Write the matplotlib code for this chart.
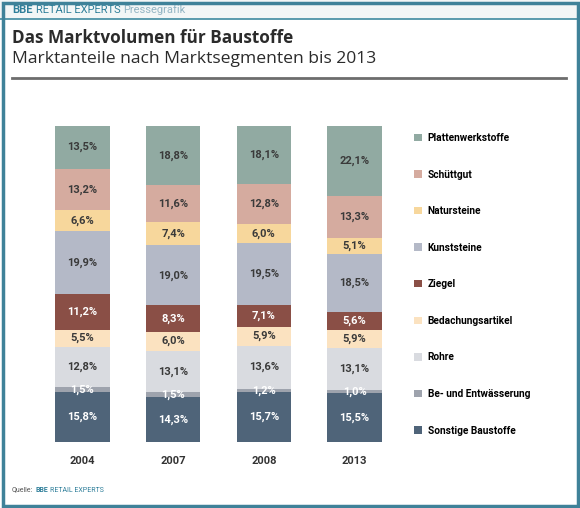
import matplotlib.pyplot as plt
from matplotlib.patches import Rectangle, Patch
from matplotlib.lines import Line2D

plt.rcParams['font.family'] = ['Roboto', 'DejaVu Sans']

years = ['2004', '2007', '2008', '2013']
segments = ['Sonstige Baustoffe', 'Be- und Entwässerung', 'Rohre', 'Bedachungsartikel',
            'Ziegel', 'Kunststeine', 'Natursteine', 'Schüttgut', 'Plattenwerkstoffe']
# values bottom -> top, one list per segment (2004, 2007, 2008, 2013)
sonstige = [15.8, 14.3, 15.7, 15.5]
entwaesserung = [1.5, 1.5, 1.2, 1.0]
rohre = [12.8, 13.1, 13.6, 13.1]
bedachung = [5.5, 6.0, 5.9, 5.9]
ziegel = [11.2, 8.3, 7.1, 5.6]
kunststeine = [19.9, 19.0, 19.5, 18.5]
natursteine = [6.6, 7.4, 6.0, 5.1]
schuettgut = [13.2, 11.6, 12.8, 13.3]
platten = [13.5, 18.8, 18.1, 22.1]
values = [sonstige, entwaesserung, rohre, bedachung, ziegel,
          kunststeine, natursteine, schuettgut, platten]

colors = ['#4f6479', '#9ea3ad', '#d9dbe0', '#fbe2c0', '#8a4f46',
          '#b4b9c7', '#f7d79c', '#d5ab9f', '#91aaa2']
text_colors = ['white', 'white', '#3a3a3a', '#3a3a3a', 'white',
               '#3a3a3a', '#3a3a3a', '#3a3a3a', '#3a3a3a']

W, H = 580, 508
fig = plt.figure(figsize=(W / 100, H / 100), dpi=100)
fig.patch.set_facecolor('white')

# frame and header strip
fig.patches.append(Rectangle((0, 1 - 19 / H), 1, 19 / H, transform=fig.transFigure,
                             facecolor='#f3f6f6', edgecolor='none', zorder=0))
fig.add_artist(Line2D([0, 1], [1 - 19 / H, 1 - 19 / H], color='#3f8aa0', lw=1.2))
fig.patches.append(Rectangle((2.5 / W, 2.5 / H), 1 - 5 / W, 1 - 5 / H, transform=fig.transFigure,
                             facecolor='none', edgecolor='#3f8299', lw=2.5, zorder=5))

renderer = fig.canvas.get_renderer()


def text_row(parts, x, y, size, gap=3):
    # write text pieces one after another on one line (x, y in pixels from top-left)
    for txt, color, weight in parts:
        t = fig.text(x / W, 1 - y / H, txt, color=color, fontsize=size,
                     fontweight=weight, va='center')
        x += t.get_window_extent(renderer).width + gap


text_row([('BBE', '#2f7f9a', 'bold'), ('RETAIL EXPERTS', '#2f7f9a', 'normal'),
          ('Pressegrafik', '#93b5c4', 'normal')], 12, 10, 8)

fig.text(12 / W, 1 - 38 / H, 'Das Marktvolumen für Baustoffe', fontsize=12.3,
         fontweight='bold', color='#2b2b2b', va='center', family='Open Sans')
fig.text(12 / W, 1 - 59 / H, 'Marktanteile nach Marktsegmenten bis 2013', fontsize=12.6,
         color='#2b2b2b', va='center', family='Open Sans')
fig.add_artist(Line2D([12 / W, 566 / W], [1 - 78 / H, 1 - 78 / H], color='#6d6d6d', lw=2))

text_row([('Quelle:', '#555555', 'normal'), ('BBE', '#2f7f9a', 'bold'),
          ('RETAIL EXPERTS', '#2f7f9a', 'normal')], 12, 490, 5, gap=2)

ax = fig.add_axes([37 / W, (H - 442) / H, 363 / W, 316 / H])
x = range(len(years))
bottom = [0.0] * len(years)
for seg, vals, c, tc in zip(segments, values, colors, text_colors):
    bars = ax.bar(x, vals, width=0.6, bottom=bottom, color=c, label=seg)
    for b, v in zip(bars, vals):
        ax.text(b.get_x() + b.get_width() / 2, b.get_y() + v / 2, f'{v:.1f}%'.replace('.', ','),
                ha='center', va='center', fontsize=8, fontweight='bold', color=tc)
    bottom = [b + v for b, v in zip(bottom, vals)]

ax.set_xlim(-0.5, 3.5)
ax.set_ylim(0, 100)
ax.set_xticks(list(x))
ax.set_xticklabels(years, fontsize=8, fontweight='bold', color='#333333')
ax.tick_params(axis='x', length=0, pad=10)
ax.set_yticks([])
for s in ax.spines.values():
    s.set_visible(False)

handles = [Patch(facecolor=c) for c in colors][::-1]
fig.legend(handles, segments[::-1], loc='upper left', bbox_to_anchor=(410 / W, 1 - 129 / H),
           frameon=False, handlelength=0.75, handleheight=0.75,
           handletextpad=0.6, labelspacing=2.62, borderaxespad=0,
           prop={'weight': 'bold', 'size': 7.3})

fig.savefig('out.png', dpi=100)
